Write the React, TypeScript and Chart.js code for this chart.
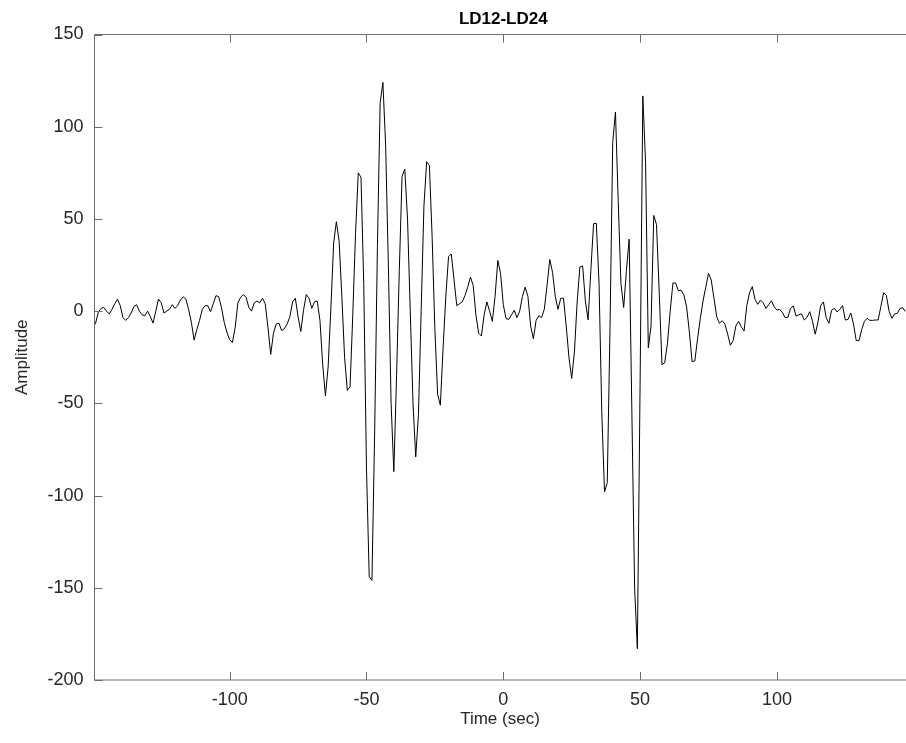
import React, { useEffect, useRef } from "react";
import { Chart, registerables } from "chart.js";

Chart.register(...registerables);

// ---- data ----
const timeStart = -150; // seconds, first sample
const timeStep = 1; // seconds between samples
const amplitudes = [
  -9, -6.5, -0.5, 1.5, 2, 0, -1.5, 1, 4, 6.5,
  3, -3.5, -5, -3.5, -1, 2.5, 3.5, 0, -2, -2.5,
  0, -3, -6.5, 0, 6.5, 4.5, -1, 0, 1, 3.5,
  1.5, 3, 6, 7.8, 6.5, 1, -6, -15.7, -10, -5,
  1, 3, 3, -0.3, 4, 8.4, 7.8, 2, -6, -11.5,
  -15.5, -17, -9, 4.5, 7.5, 9, 7.5, 2, 0, 4.5,
  5.5, 4.5, 7, 4, -9, -23.5, -12, -7, -6.5, -10.5,
  -9.5, -7, -3, 5, 7, -3, -11, 0.5, 9, 7,
  1.5, 5, 5.5, -5, -29, -46, -30, 2, 37, 48.5,
  38, 8, -25, -43, -41, -2, 42, 75, 72.5, 15,
  -85, -144, -146, -65, 35, 113, 124, 90, 25, -50,
  -87, -35, 22, 73, 77, 50, 0, -50, -79, -56,
  1, 57, 81, 79, 40, -10, -45, -51, -20, 8,
  29.5, 31, 17, 3, 4, 5, 8.5, 13, 18.5, 14,
  -2, -12, -13.5, -2, 5, 0, -5.5, 8, 27.5, 20.5,
  3.5, -4, -4.5, -2, 0.5, -3.5, 0, 8, 13, 8,
  -8, -15, -5, -2.5, -3.5, 1, 14, 28, 21, 8,
  1, 7, 7, -8, -25, -36.5, -22, 5, 24, 24.5,
  5.5, -4.7, 22, 47.4, 47.6, 15, -55, -98, -93, -10,
  91.6, 108, 60, 15, 2, 22, 39, -55, -150, -183,
  -40, 116.7, 80.7, -20, -8, 51.9, 46.9, 10, -29, -28,
  -17.4, 0, 15.3, 15.3, 11, 11.4, 8.8, 2.3, -11.2, -27.4,
  -27, -15, -4, 5.5, 13, 20.5, 16.9, 7, -3, -6.6,
  -5.2, -7, -12.5, -18.5, -16, -8, -5.5, -8.5, -10.8, 3,
  10, 13.3, 6.4, 3.7, 6, 4.5, 1.5, 3.5, 5.6, 2.4,
  0.6, 1, -0.8, -3.5, -3.4, 1.5, 2.8, -2.7, -2, -1.5,
  -4.8, -3.4, -0.3, -5.5, -12.5, -6, 3, 5, -3.5, -6.6,
  0.5, 1.5, -0.5, 1, 3, -4.8, -4.5, -1, -7, -16,
  -16, -10, -5.5, -3.9, -5, -5, -4.8, -4.8, 2.5, 10,
  8.5, 0, -3.9, -1.5, -1.2, 1.5, 1.8, -0.3,
];
const times = amplitudes.map((_, i) => timeStart + i * timeStep);

const xTickValues = [-100, -50, 0, 50, 100];
const yTickValues = [-200, -150, -100, -50, 0, 50, 100, 150];
const xMin = -149.4;
const xMax = 147.0;
const yMin = -200;
const yMax = 150;

const titleText = "LD12-LD24";
const xLabelText = "Time (sec)";
const yLabelText = "Amplitude";

// ---- styles ----
const FONT = 'Helvetica, "Liberation Sans", Arial, sans-serif';
const TEXT_COLOR = "#262626";
const AXIS_COLOR = "#6e6e6e";
const TICK_LEN = 8;

const framePlugin = {
  id: "matlabFrame",
  afterDraw(chart: any) {
    const { ctx, chartArea: a, scales } = chart;
    const xs = scales.x;
    const ys = scales.y;
    ctx.save();
    ctx.strokeStyle = AXIS_COLOR;
    ctx.lineWidth = 1;
    const L = a.left;
    const R = a.right + 2;
    const T = a.top;
    const B = a.bottom;
    ctx.beginPath();
    ctx.moveTo(L, T);
    ctx.lineTo(L, B);
    ctx.moveTo(L, B);
    ctx.lineTo(R, B);
    ctx.moveTo(L, T);
    ctx.lineTo(R, T);
    for (const v of xTickValues) {
      const px = Math.round(xs.getPixelForValue(v)) + 0.5;
      ctx.moveTo(px, B);
      ctx.lineTo(px, B - TICK_LEN);
      ctx.moveTo(px, T);
      ctx.lineTo(px, T + TICK_LEN);
    }
    for (const v of yTickValues) {
      const py = Math.round(ys.getPixelForValue(v)) + 0.5;
      ctx.moveTo(L, py);
      ctx.lineTo(L + TICK_LEN, py);
    }
    ctx.stroke();

    ctx.fillStyle = "#000";
    ctx.font = `bold 17px ${FONT}`;
    ctx.textAlign = "center";
    ctx.textBaseline = "alphabetic";
    ctx.fillText(titleText, xs.getPixelForValue(0), 23.5);
    ctx.restore();
  },
};

export default function App() {
  const canvasRef = useRef<HTMLCanvasElement>(null);

  useEffect(() => {
    const canvas = canvasRef.current;
    if (!canvas) return;
    const points = times.map((t, i) => ({ x: t, y: amplitudes[i] }));
    const chart = new Chart(canvas, {
      type: "line",
      data: {
        datasets: [
          {
            data: points,
            borderColor: "#000000",
            borderWidth: 1,
            pointRadius: 0,
            tension: 0,
            fill: false,
          },
        ],
      },
      options: {
        responsive: false,
        animation: false,
        devicePixelRatio: 1,
        parsing: false as any,
        normalized: true,
        layout: { padding: { top: 34.5, right: 0.5, left: 0, bottom: 0 } },
        plugins: {
          legend: { display: false },
          title: { display: false },
          tooltip: { enabled: false },
        },
        scales: {
          x: {
            type: "linear",
            min: xMin,
            max: xMax,
            grid: { display: false, drawTicks: false },
            border: { display: false },
            afterBuildTicks: (s: any) => {
              s.ticks = xTickValues.map((v) => ({ value: v }));
            },
            afterFit: (s: any) => {
              s.height = 63;
            },
            ticks: {
              autoSkip: false,
              maxRotation: 0,
              padding: 9,
              color: TEXT_COLOR,
              font: { family: FONT, size: 18 },
              callback: (v: any) => String(v),
            },
            title: {
              display: true,
              text: xLabelText,
              color: TEXT_COLOR,
              font: { family: FONT, size: 17 },
              padding: { top: 0, bottom: 13 },
            },
          },
          y: {
            type: "linear",
            min: yMin,
            max: yMax,
            grid: { display: false, drawTicks: false },
            border: { display: false },
            afterBuildTicks: (s: any) => {
              s.ticks = yTickValues.map((v) => ({ value: v }));
            },
            afterFit: (s: any) => {
              s.width = 94.5;
            },
            ticks: {
              autoSkip: false,
              padding: 11,
              color: TEXT_COLOR,
              font: { family: FONT, size: 18 },
              callback: (v: any) => String(v),
            },
            title: {
              display: true,
              text: yLabelText,
              color: TEXT_COLOR,
              font: { family: FONT, size: 17 },
              padding: { top: 12, bottom: 0 },
            },
          },
        },
      },
      plugins: [framePlugin],
    });
    return () => chart.destroy();
  }, []);

  return (
    <div
      style={{
        position: "fixed",
        left: 0,
        top: 0,
        width: 906,
        height: 743,
        background: "#ffffff",
      }}
    >
      <canvas
        ref={canvasRef}
        width={906}
        height={743}
        style={{ display: "block", width: 906, height: 743 }}
      />
    </div>
  );
}
